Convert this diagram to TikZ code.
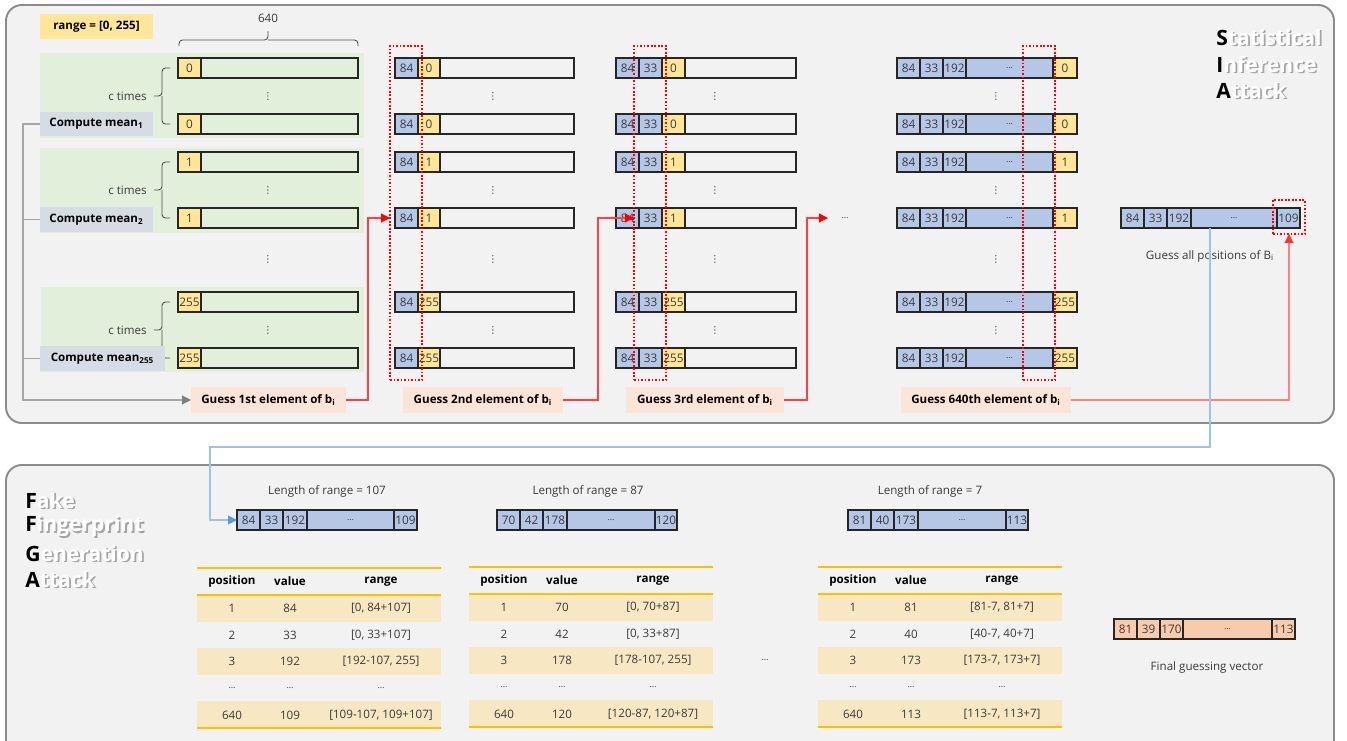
\documentclass[tikz,border=0pt]{standalone}
\usepackage{fontspec}
\setmainfont{Open Sans}
\newfontfamily\dvs{DejaVu Sans}
\usetikzlibrary{arrows.meta,calc}
\definecolor{panel}{HTML}{F2F2F2}
\definecolor{panelborder}{HTML}{8C8C8C}
\definecolor{cgreen}{HTML}{E2EFDA}
\definecolor{cyel}{HTML}{FFE699}
\definecolor{cblue}{HTML}{B4C7E7}
\definecolor{cmean}{HTML}{D6DCE5}
\definecolor{cguess}{HTML}{FBE5D6}
\definecolor{cpeach}{HTML}{F8CBAD}
\definecolor{ctab}{HTML}{F7E7C3}
\definecolor{corange}{HTML}{FFC000}
\definecolor{ctext}{HTML}{3A3A3A}
\definecolor{cred}{HTML}{FF4040}
\definecolor{cpink}{HTML}{FF8080}
\definecolor{cbline}{HTML}{9DC3E6}
\definecolor{cbarrow}{HTML}{5B9BD5}
\definecolor{cgline}{HTML}{A6A6A6}
\definecolor{cgarrow}{HTML}{7F7F7F}
\definecolor{cshadow}{HTML}{A4A4A4}
\newcommand\elps{{\fontsize{5}{5}\selectfont …}}
\newcommand\cellx[6]{\node[cell,fill=#5,minimum width={(#3)*0.02cm},anchor=west] (#1) at (#2,#4) {#6};}
\newcommand\bx[7]{\node[#6,minimum width={((#4)-(#2))*0.02cm},minimum height={((#5)-(#3))*0.02cm},inner sep=0pt,outer sep=0pt] (#1) at ({((#2)+(#4))/2},{((#3)+(#5))/2}) {#7};}
\newcommand\bigword[5]{%
  \node[bigw,anchor=west] (#1) at (#2,#3) {\rlap{\hspace{1pt}\raisebox{-1pt}{\textcolor{cshadow}{\phantom{#4}#5}}}#4\textcolor{white}{#5}};}
\newcommand\trow[7]{%
  \node[txt] (#1p#2) at (#3+35,#4) {#5};
  \node[txt] (#1v#2) at (#3+93,#4) {#6};
  \node[txt] (#1r#2) at (#3+184,#4) {#7};}
\newcommand\tframe[3]{% name, xl, yt
  \bx{#1f1}{#2}{#3+27}{#2+244}{#3+53.6}{fill=ctab}{}
  \bx{#1f3}{#2}{#3+80.2}{#2+244}{#3+106.8}{fill=ctab}{}
  \bx{#1f5}{#2}{#3+133.4}{#2+244}{#3+160}{fill=ctab}{}
  \draw[oline] (#2,#3) -- (#2+244,#3);
  \draw[oline] (#2,#3+27) -- (#2+244,#3+27);
  \draw[oline] (#2,#3+160) -- (#2+244,#3+160);
  \node[btxt] (#1hp) at (#2+35,#3+13.5) {position};
  \node[btxt] (#1hv) at (#2+93,#3+13.5) {value};
  \node[btxt] (#1hr) at (#2+184,#3+13.5) {range};}
\begin{document}
\begin{tikzpicture}[x=0.02cm,y=-0.02cm,
  cell/.style={draw=black!85,line width=0.75pt,minimum height=0.4cm,inner sep=0pt,outer sep=0pt,font=\fontsize{6.7}{7}\selectfont,text=ctext},
  txt/.style={font=\fontsize{6.6}{8}\selectfont,text=ctext,inner sep=0pt},
  btxt/.style={font=\fontsize{6.6}{8}\selectfont\bfseries,text=black,inner sep=0pt},
  bigw/.style={font=\fontsize{12}{14}\selectfont\bfseries,text=black,inner sep=0pt},
  dotsv/.style={font=\dvs\fontsize{5.5}{6}\selectfont,text=ctext,inner sep=0pt},
  dotbox/.style={draw=red,line width=1pt,densely dotted},
  panelst/.style={draw=panelborder,line width=1.1pt,fill=panel,rounded corners=9pt},
  brc/.style={draw=black!70,line width=0.5pt,rounded corners=2pt},
  rarr/.style={draw=cred,line width=0.6pt,-{Triangle[length=5pt,width=5pt,color=red]}},
  parr/.style={draw=cpink,line width=0.6pt,-{Triangle[length=5pt,width=5pt,color=red!80]}},
  barr/.style={draw=cbline,line width=0.6pt,-{Triangle[length=5pt,width=5pt,color=cbarrow]}},
  gline/.style={draw=cgline,line width=0.6pt},
  garr/.style={draw=cgline,line width=0.6pt,-{Triangle[length=5pt,width=5pt,color=cgarrow]}},
  oline/.style={draw=corange,line width=1.1pt}]
\fill[white] (0,0) rectangle (1347,741);
\useasboundingbox (0,0) rectangle (1347,741);
\clip (0,0) rectangle (1347,741);
% panels
\bx{top}{6}{5}{1334}{423}{panelst}{}
\bx{bot}{6}{465}{1334}{800}{panelst}{}
% top-left
\bx{rng}{40}{14}{153}{39}{fill=cyel,btxt}{range = [0, 255]}
\node[txt] (n640) at (268,18) {640};
\draw[brc] (179,46) |- (268,40) -- (268,31);
\draw[brc] (358,46) |- (268,40);
% green groups
\bx{grn1}{40}{53}{364}{138}{fill=cgreen}{}
\bx{grn2}{40}{148}{364}{233}{fill=cgreen}{}
\bx{grn3}{41}{287}{364}{372}{fill=cgreen}{}
% c times
\foreach \yt/\yb/\yc/\i in {68/124/96/1,162/218/190/2,302/358/330/3}{
  \node[txt,anchor=east] (ct\i) at (147,\yc) {c times};
  \draw[brc] (170,\yt) -| (162,\yc) -- (154,\yc);
  \draw[brc] (170,\yb) -| (162,\yc);
}
% vertical dots
\foreach \xx in {268,493,715,996}{
  \foreach \yy in {96,190,259,330}{
    \node[dotsv] (vd\xx-\yy) at (\xx,\yy) {⋮};
  }
}
% bars
\foreach \yy/\v/\i in {68/0/1,124/0/2,162/1/3,218/1/4,302/255/5,358/255/6}{
  \cellx{a\i-y}{178}{23}{\yy}{cyel}{\v}
  \cellx{a\i-r}{201}{157}{\yy}{none}{}
  \cellx{b\i-a}{395}{23}{\yy}{cblue}{84}
  \cellx{b\i-y}{418}{22}{\yy}{cyel}{\v}
  \cellx{b\i-r}{440}{134}{\yy}{none}{}
  \cellx{c\i-a}{616}{23}{\yy}{cblue}{84}
  \cellx{c\i-b}{639}{23}{\yy}{cblue}{33}
  \cellx{c\i-y}{662}{23}{\yy}{cyel}{\v}
  \cellx{c\i-r}{685}{111}{\yy}{none}{}
  \cellx{e\i-a}{897}{23}{\yy}{cblue}{84}
  \cellx{e\i-b}{920}{23}{\yy}{cblue}{33}
  \cellx{e\i-c}{943}{23}{\yy}{cblue}{192}
  \cellx{e\i-d}{966}{87}{\yy}{cblue}{\elps}
  \cellx{e\i-y}{1053}{24}{\yy}{cyel}{\v}
}
% compute mean boxes
\bx{m1}{40}{112}{153}{136}{fill=cmean,btxt}{Compute mean\textsubscript{1}}
\bx{m2}{40}{207}{153}{232}{fill=cmean,btxt}{Compute mean\textsubscript{2}}
\bx{m3}{40}{346}{165}{371}{fill=cmean,btxt}{Compute mean\textsubscript{255}}
% guess boxes
\bx{gs1}{191}{387}{346}{413}{fill=cguess,btxt}{Guess 1st element of b\textsubscript{i}}
\bx{gs2}{403}{387}{563}{413}{fill=cguess,btxt}{Guess 2nd element of b\textsubscript{i}}
\bx{gs3}{626}{387}{784}{413}{fill=cguess,btxt}{Guess 3rd element of b\textsubscript{i}}
\bx{gs4}{901}{387}{1071}{413}{fill=cguess,btxt}{Guess 640th element of b\textsubscript{i}}
% final top vector
\cellx{f1}{1121}{23}{218}{cblue}{84}
\cellx{f2}{1144}{23}{218}{cblue}{33}
\cellx{f3}{1167}{24}{218}{cblue}{192}
\cellx{f4}{1191}{86}{218}{cblue}{\elps}
\cellx{f5}{1277}{23}{218}{cblue}{109}
\node[txt] (gall) at (1210,256) {Guess all positions of B\textsubscript{i}};
% dotted boxes
\bx{d2}{390}{46}{422}{380}{dotbox}{}
\bx{d3}{634}{46}{666}{380}{dotbox}{}
\bx{d4}{1023}{46}{1055}{380}{dotbox}{}
\bx{d5}{1273}{200}{1305}{234}{dotbox}{}
\node[txt] (ell) at (845,218) {\elps};
\coordinate (tip4) at (828,218);
% gray connectors
\coordinate (gx) at (23,0);
\draw[garr] (m1.west) -- (m1.west -| gx) |- (gs1.west);
\draw[gline] (m2.west) -- (m2.west -| gx);
\draw[gline] (m3.west) -- (m3.west -| gx);
% red connectors
\draw[rarr] (gs1.east) -- ++(22,0) |- (d2.west |- b4-a.center);
\draw[rarr] (gs2.east) -- ++(35,0) |- (d3.west |- c4-a.center);
\draw[rarr] (gs3.east) -- ++(23,0) |- (tip4);
\draw[parr] (gs4.east) -| (d5.south);
% SIA
\bigword{sia1}{1216}{38}{S}{tatistical}
\bigword{sia2}{1216}{65}{I}{nference}
\bigword{sia3}{1216}{91}{A}{ttack}
% FFGA
\bigword{fg1}{25}{501}{F}{ake}
\bigword{fg2}{25}{527}{F}{ingerprint}
\bigword{fg3}{25}{554}{G}{eneration}
\bigword{fg4}{25}{580}{A}{ttack}
% bottom vectors
\node[txt] (len1) at (327,491) {Length of range = 107};
\cellx{v1a}{237}{23}{520}{cblue}{84}
\cellx{v1b}{260}{23}{520}{cblue}{33}
\cellx{v1c}{283}{24}{520}{cblue}{192}
\cellx{v1d}{307}{87}{520}{cblue}{\elps}
\cellx{v1e}{394}{23}{520}{cblue}{109}
\node[txt] (len2) at (588,491) {Length of range = 87};
\cellx{v2a}{497}{23}{520}{cblue}{70}
\cellx{v2b}{520}{23}{520}{cblue}{42}
\cellx{v2c}{543}{24}{520}{cblue}{178}
\cellx{v2d}{567}{88}{520}{cblue}{\elps}
\cellx{v2e}{655}{22}{520}{cblue}{120}
\node[txt] (len3) at (930,491) {Length of range = 7};
\cellx{v3a}{848}{23}{520}{cblue}{81}
\cellx{v3b}{871}{23}{520}{cblue}{40}
\cellx{v3c}{894}{24}{520}{cblue}{173}
\cellx{v3d}{918}{88}{520}{cblue}{\elps}
\cellx{v3e}{1006}{22}{520}{cblue}{113}
% blue connector
\coordinate (bx) at (1210,0);
\coordinate (bcorner) at (210,447);
\draw[barr] (f4.south -| bx) |- (bcorner) |- (v1a.west);
% tables
\tframe{ta}{197}{568}
\trow{ta}{1}{197}{608}{1}{84}{[0, 84+107]}
\trow{ta}{2}{197}{635}{2}{33}{[0, 33+107]}
\trow{ta}{3}{197}{661}{3}{192}{[192-107, 255]}
\trow{ta}{4}{197}{688}{\elps}{\elps}{\elps}
\trow{ta}{5}{197}{715}{640}{109}{[109-107, 109+107]}
\tframe{tb}{469}{567}
\trow{tb}{1}{469}{607}{1}{70}{[0, 70+87]}
\trow{tb}{2}{469}{634}{2}{42}{[0, 33+87]}
\trow{tb}{3}{469}{660}{3}{178}{[178-107, 255]}
\trow{tb}{4}{469}{687}{\elps}{\elps}{\elps}
\trow{tb}{5}{469}{714}{640}{120}{[120-87, 120+87]}
\tframe{tc}{818}{567}
\trow{tc}{1}{818}{607}{1}{81}{[81-7, 81+7]}
\trow{tc}{2}{818}{634}{2}{40}{[40-7, 40+7]}
\trow{tc}{3}{818}{660}{3}{173}{[173-7, 173+7]}
\trow{tc}{4}{818}{687}{\elps}{\elps}{\elps}
\trow{tc}{5}{818}{714}{640}{113}{[113-7, 113+7]}
\node[txt] (mid) at (765,660) {\elps};
% final guessing vector
\cellx{pa}{1114}{23}{629}{cpeach}{81}
\cellx{pb}{1137}{23}{629}{cpeach}{39}
\cellx{pc}{1160}{23}{629}{cpeach}{170}
\cellx{pd}{1183}{89}{629}{cpeach}{\elps}
\cellx{pe}{1272}{23}{629}{cpeach}{113}
\node[txt] (fgv) at (1207,667) {Final guessing vector};
\end{tikzpicture}
\end{document}
